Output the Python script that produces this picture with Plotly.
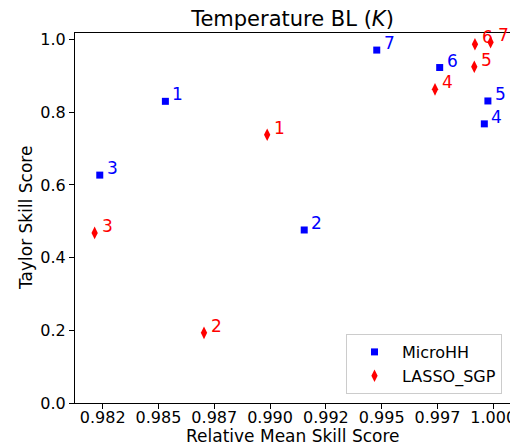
import plotly.graph_objects as go

labels = ["1", "2", "3", "4", "5", "6", "7"]
microhh_x = [0.98531, 0.99153, 0.98237, 0.99960, 0.99976, 0.99760, 0.99478]
microhh_y = [0.830, 0.476, 0.627, 0.768, 0.831, 0.923, 0.971]
lasso_x = [0.98987, 0.98704, 0.98214, 0.99739, 0.99915, 0.99918, 0.99988]
lasso_y = [0.738, 0.193, 0.468, 0.863, 0.925, 0.987, 0.9925]

x_tickvals = [0.9825, 0.985, 0.9875, 0.990, 0.9925, 0.995, 0.9975, 1.000]
x_ticktext = ["0.982", "0.985", "0.987", "0.990", "0.992", "0.995", "0.997", "1.000"]
y_tickvals = [0.0, 0.2, 0.4, 0.6, 0.8, 1.0]

BLUE = "#0000ff"
RED = "#ff0000"
FONT = "DejaVu Sans"

# page body margin offset (figure drawn at 8,8 in the page)
OFF = 8
W, H = 518 - OFF, 448 - OFF
# plot area in page pixels
PL, PR, PT, PB = 75, 510, 33, 403
L, R, T, B = PL - OFF, W - (PR - OFF), PT - OFF, H - (PB - OFF)
pw, ph = W - L - R, H - T - B

def px_to_paper_x(page_x):
    return (page_x - PL) / pw

def px_to_paper_y(page_y):
    return (PB - page_y) / ph

fig = go.Figure()
fig.add_trace(go.Scatter(x=microhh_x, y=microhh_y, mode="markers", name="MicroHH",
                         marker=dict(symbol="square", size=7, color=BLUE)))
fig.add_trace(go.Scatter(x=lasso_x, y=lasso_y, mode="markers", name="LASSO_SGP",
                         marker=dict(symbol="diamond-tall", size=9, color=RED)))

annotations = []
for xs, ys, col in [(microhh_x, microhh_y, BLUE), (lasso_x, lasso_y, RED)]:
    for x, y, t in zip(xs, ys, labels):
        annotations.append(dict(x=x, y=y, text=t, showarrow=False, xanchor="left",
                                yanchor="middle", xshift=5, yshift=7,
                                font=dict(family=FONT, size=17, color=col)))

annotations.append(dict(text="Relative Mean Skill Score", xref="paper", yref="paper",
                        x=0.5, y=px_to_paper_y(436), xanchor="center", yanchor="middle",
                        showarrow=False, font=dict(family=FONT, size=17, color="black")))
annotations.append(dict(text="Taylor Skill Score", xref="paper", yref="paper",
                        x=px_to_paper_x(26), y=0.5, xanchor="center", yanchor="middle",
                        textangle=-90, showarrow=False,
                        font=dict(family=FONT, size=17, color="black")))

fig.update_layout(
    width=W, height=H,
    margin=dict(l=L, r=R, t=T, b=B, autoexpand=False),
    paper_bgcolor="white", plot_bgcolor="white",
    font=dict(family=FONT, size=16, color="black"),
    title=dict(text="Temperature BL (<i>K</i>)", x=((PL + PR) / 2 - OFF) / W, xanchor="center",
               y=1 - (19 - OFF) / H, yanchor="middle", font=dict(size=21)),
    annotations=annotations,
    legend=dict(x=px_to_paper_x(502), y=px_to_paper_y(394), xanchor="right", yanchor="bottom",
                bgcolor="white", bordercolor="#cccccc", borderwidth=1,
                font=dict(size=16), itemwidth=45),
    showlegend=True,
)
fig.update_xaxes(range=[0.98126, 1.00075], tickvals=x_tickvals, ticktext=x_ticktext,
                 showgrid=False, zeroline=False, showline=True, mirror=True,
                 linecolor="black", linewidth=1, ticks="outside", ticklen=5,
                 tickcolor="black", automargin=False, tickfont=dict(size=16),
                 ticklabelstandoff=-5)
fig.update_yaxes(range=[0, 1.018], tickvals=y_tickvals, tickformat=".1f",
                 showgrid=False, zeroline=False, showline=True, mirror=True,
                 linecolor="black", linewidth=1, ticks="outside", ticklen=5,
                 tickcolor="black", automargin=False, tickfont=dict(size=16))

fig.write_html("out.html")
